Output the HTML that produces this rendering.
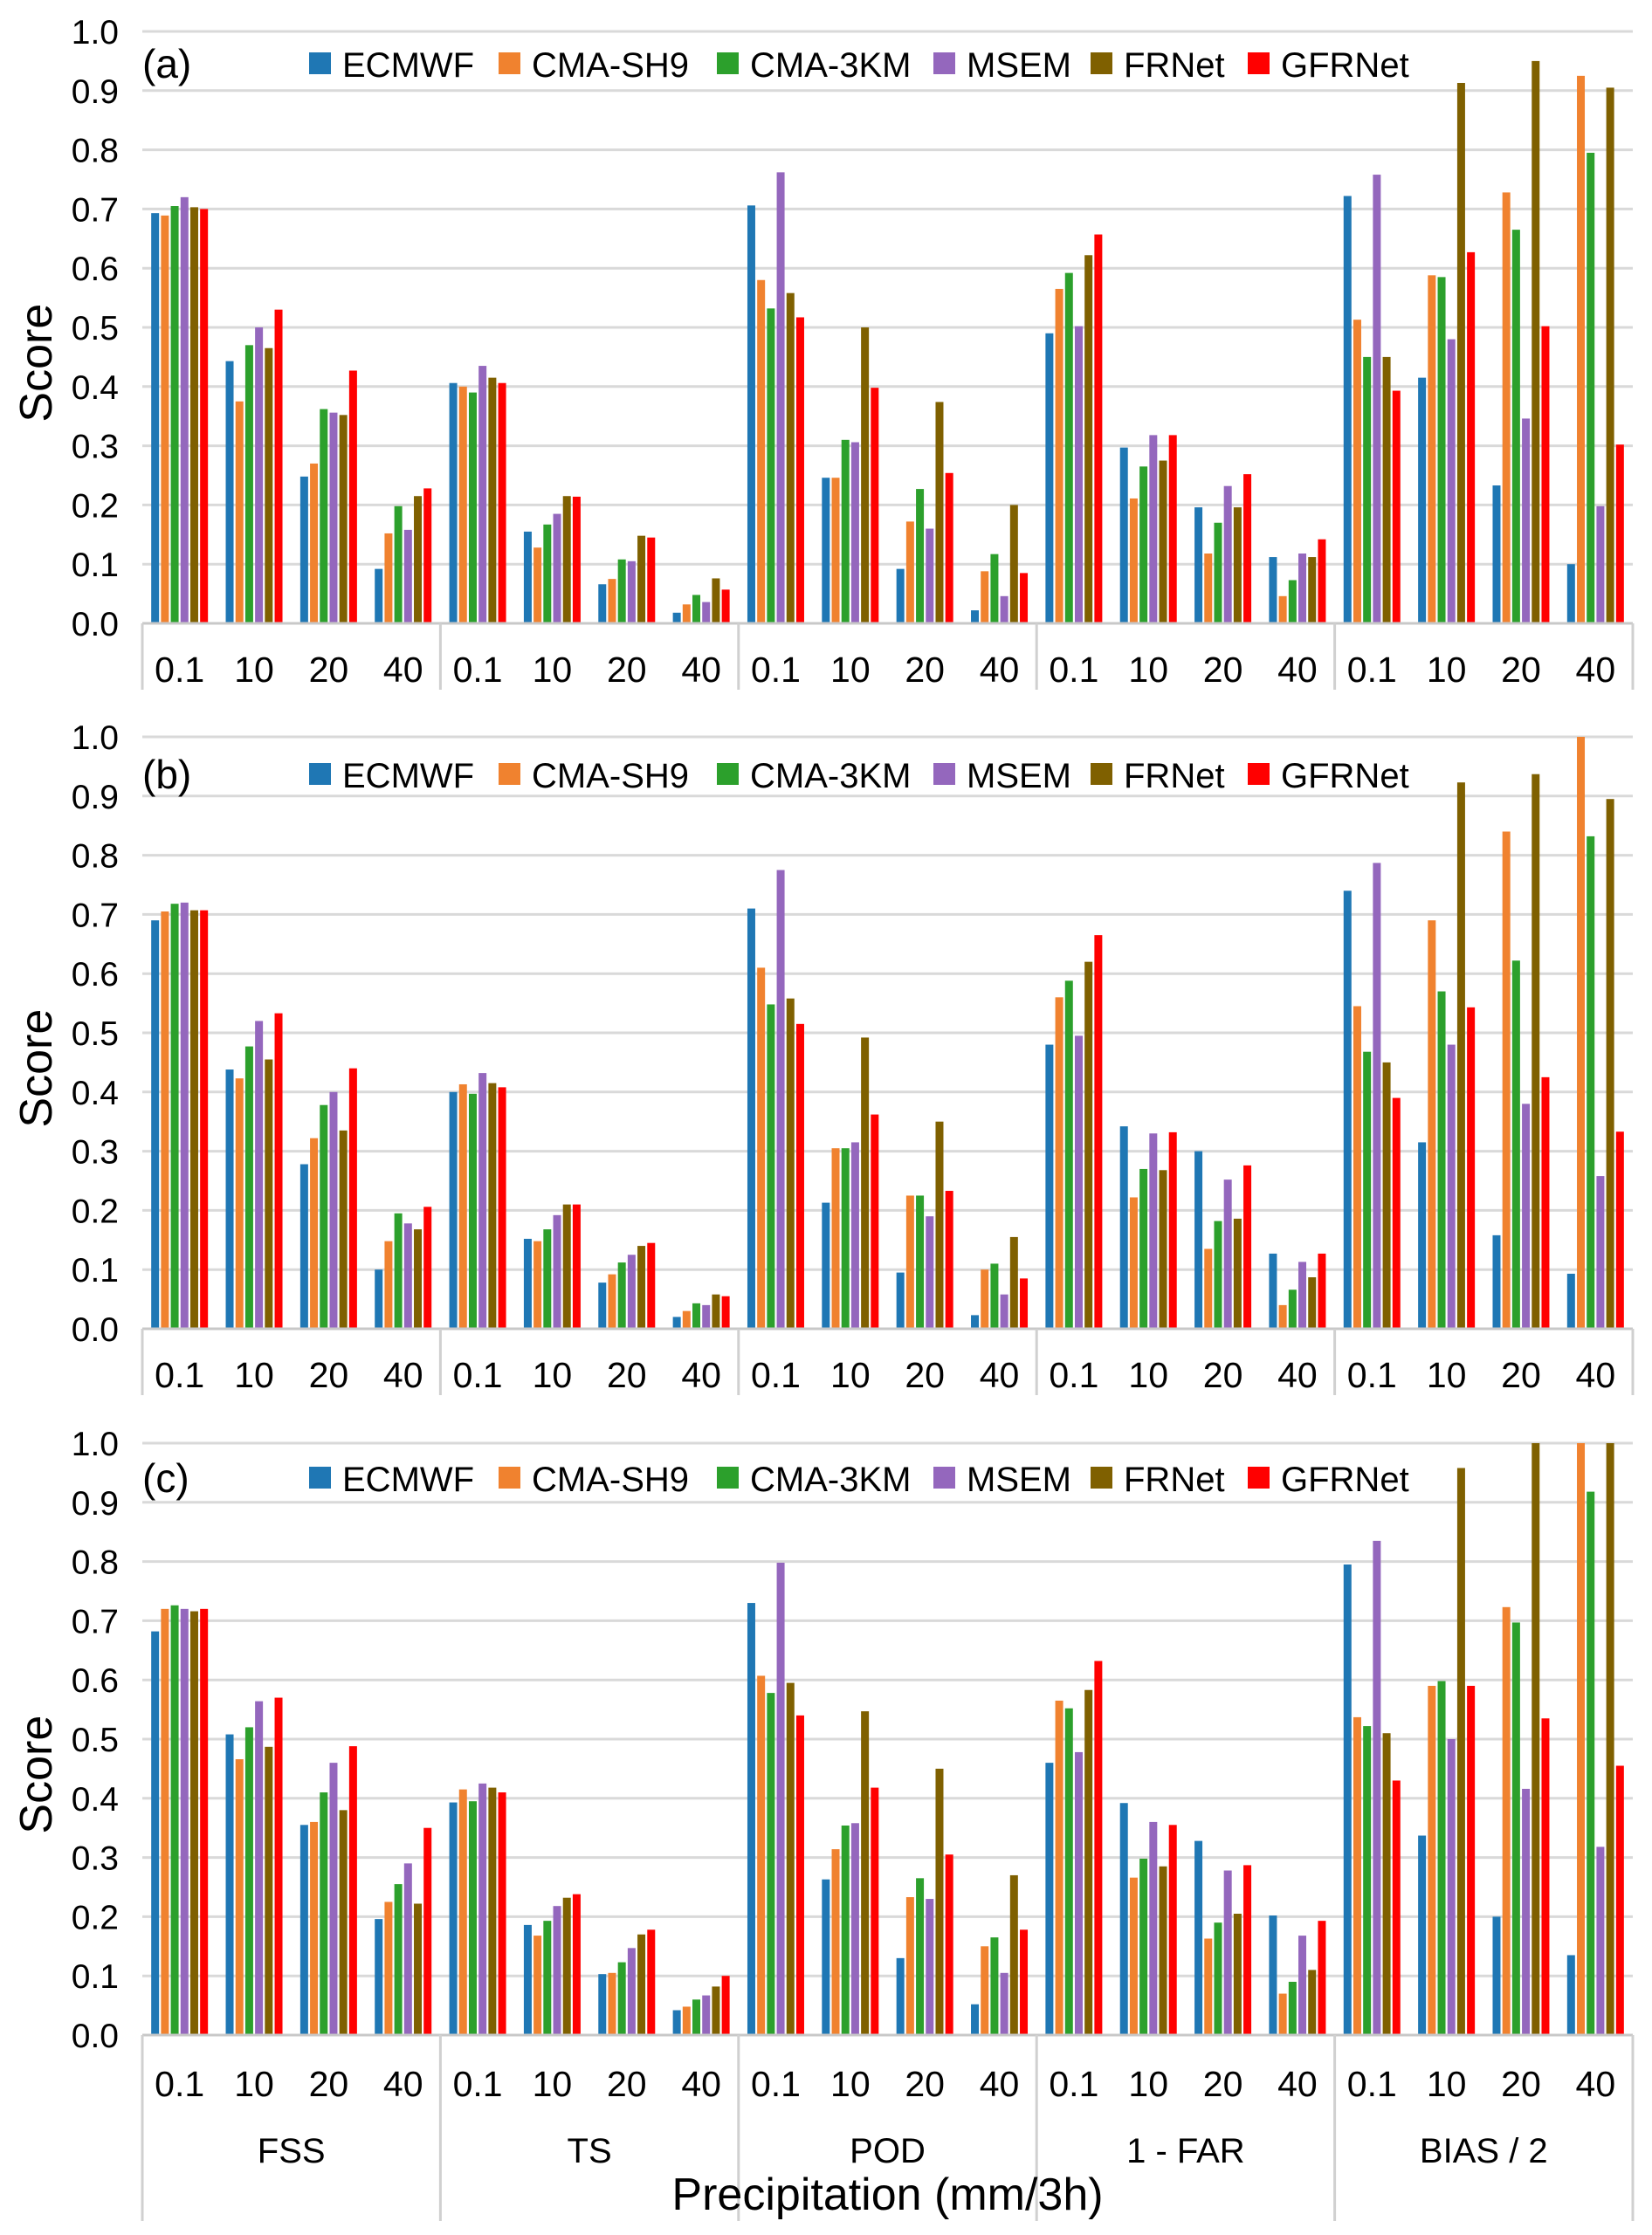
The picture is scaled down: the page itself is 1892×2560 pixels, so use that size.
<!DOCTYPE html>
<html><head><meta charset="utf-8"><style>
html,body{margin:0;padding:0;background:#fff}
svg{display:block}
text{font-family:"Liberation Sans",Arial,sans-serif;fill:#000}
</style></head><body>
<svg id="chart" width="1892" height="2560" viewBox="0 0 1892 2560" xmlns="http://www.w3.org/2000/svg"></svg>
<script>
const series = ["ECMWF","CMA-SH9","CMA-3KM","MSEM","FRNet","GFRNet"];
const colors = ["#1f77b4","#f0822f","#2ca02c","#9467bd","#7f6000","#ff0000"];
const groups = ["FSS","TS","POD","1 - FAR","BIAS / 2"];
const thresholds = ["0.1","10","20","40"];
const yTicks = ["0.0","0.1","0.2","0.3","0.4","0.5","0.6","0.7","0.8","0.9","1.0"];
const panelLabels = ["(a)","(b)","(c)"];
const panelA = [
[0.693,0.689,0.705,0.72,0.703,0.700],[0.443,0.375,0.47,0.50,0.465,0.53],[0.248,0.27,0.362,0.356,0.352,0.427],[0.092,0.152,0.198,0.158,0.215,0.228],
[0.406,0.400,0.39,0.435,0.415,0.406],[0.155,0.128,0.167,0.185,0.215,0.214],[0.066,0.075,0.108,0.105,0.148,0.145],[0.018,0.032,0.048,0.036,0.076,0.057],
[0.706,0.58,0.532,0.762,0.558,0.517],[0.246,0.246,0.31,0.306,0.50,0.398],[0.092,0.172,0.227,0.16,0.374,0.254],[0.022,0.088,0.117,0.046,0.20,0.085],
[0.49,0.565,0.592,0.502,0.622,0.657],[0.297,0.211,0.265,0.318,0.275,0.318],[0.196,0.118,0.170,0.232,0.196,0.252],[0.112,0.046,0.073,0.118,0.112,0.142],
[0.722,0.513,0.45,0.758,0.45,0.393],[0.415,0.588,0.585,0.48,0.913,0.627],[0.233,0.728,0.665,0.346,0.95,0.502],[0.10,0.925,0.795,0.198,0.905,0.302]];
const panelB = [
[0.69,0.705,0.718,0.72,0.707,0.707],[0.438,0.423,0.477,0.52,0.455,0.533],[0.278,0.322,0.378,0.40,0.335,0.44],[0.10,0.148,0.195,0.178,0.168,0.206],
[0.40,0.413,0.397,0.432,0.415,0.408],[0.152,0.148,0.168,0.192,0.21,0.21],[0.078,0.092,0.112,0.125,0.14,0.145],[0.02,0.03,0.043,0.04,0.058,0.055],
[0.71,0.61,0.548,0.775,0.558,0.515],[0.213,0.305,0.305,0.315,0.492,0.362],[0.095,0.225,0.225,0.19,0.35,0.233],[0.023,0.10,0.11,0.058,0.155,0.085],
[0.48,0.56,0.588,0.495,0.62,0.665],[0.342,0.222,0.27,0.33,0.268,0.332],[0.30,0.135,0.182,0.252,0.186,0.276],[0.127,0.04,0.066,0.113,0.087,0.127],
[0.74,0.545,0.468,0.787,0.45,0.39],[0.315,0.69,0.57,0.48,0.923,0.543],[0.158,0.84,0.622,0.38,0.937,0.425],[0.093,1.0,0.832,0.258,0.895,0.333]];
const panelC = [
[0.682,0.72,0.726,0.72,0.716,0.72],[0.508,0.466,0.52,0.564,0.487,0.57],[0.355,0.36,0.41,0.46,0.38,0.488],[0.196,0.225,0.255,0.29,0.222,0.35],
[0.393,0.415,0.395,0.425,0.418,0.41],[0.186,0.168,0.193,0.218,0.232,0.238],[0.103,0.105,0.123,0.147,0.17,0.178],[0.042,0.048,0.06,0.067,0.082,0.10],
[0.73,0.607,0.578,0.798,0.595,0.54],[0.263,0.314,0.354,0.358,0.547,0.418],[0.13,0.233,0.265,0.23,0.45,0.305],[0.052,0.15,0.165,0.105,0.27,0.178],
[0.46,0.565,0.552,0.478,0.583,0.632],[0.392,0.266,0.298,0.36,0.285,0.355],[0.328,0.163,0.19,0.278,0.205,0.287],[0.202,0.07,0.09,0.168,0.11,0.193],
[0.795,0.537,0.522,0.835,0.51,0.43],[0.337,0.59,0.598,0.50,0.958,0.59],[0.20,0.723,0.697,0.416,1.0,0.535],[0.135,1.0,0.918,0.318,1.0,0.455]];
const panelData = [panelA,panelB,panelC];

const NS="http://www.w3.org/2000/svg";
const svg=document.getElementById('chart');
function mk(tag,attrs,parent,txt){const e=document.createElementNS(NS,tag);for(const k in attrs)e.setAttribute(k,attrs[k]);if(txt!==undefined)e.textContent=txt;(parent||svg).appendChild(e);return e;}
const left=163,right=1870,nCat=20,catW=(right-left)/nCat,pitch=11.2,barW=9;
const zeros=[714,1522,2331],plotH=678;
const legendX=[354,571,821,1069,1249,1429];
const tickY=[766,1574,2386];
const divBottom=[790,1598,2544];
function xCat(c){return left+(c+0.5)*catW;}
panelData.forEach((data,p)=>{
  const y0=zeros[p];
  const yS=v=>y0-v*plotH;
  const g=mk('g',{});
  
  
  yTicks.forEach((t,i)=>{
    const v=parseFloat(t);
    if(i>0){const gl=mk('line',{x1:left,x2:right,y1:yS(v),y2:yS(v),stroke:'#d9d9d9','stroke-width':3},g);
      }
    const tl=mk('text',{x:136,y:yS(v)+14,'font-size':39,'text-anchor':'end'},g,t);
    
  });
  data.forEach((vals,c)=>{
    vals.forEach((v,s)=>{
      const x=xCat(c)+(s-2.5)*pitch-barW/2;
      const r=mk('rect',{x:x,y:yS(v),width:barW,height:v*plotH,fill:colors[s]},g);
      
      
    });
    const tl=mk('text',{x:xCat(c),y:tickY[p]+15,'font-size':41,'text-anchor':'middle'},g,thresholds[c%4]);
    
  });
  const ax=mk('line',{x1:left,x2:right,y1:y0,y2:y0,stroke:'#c8c8c8','stroke-width':3},g);
  
  for(let k=0;k<=5;k++){
    const x=left+k*4*catW;
    const d=mk('line',{x1:x,x2:x,y1:y0,y2:divBottom[p],stroke:'#d0d0d0','stroke-width':3},g);
    
  }
  const ly=[73,887,1693][p];
  const pl=mk('text',{x:163,y:ly+16,'font-size':46},g,panelLabels[p]);
  
  series.forEach((s,i)=>{
    const sw=mk('rect',{x:legendX[i],y:ly-13,width:25,height:25,fill:colors[i]},g);
    
    const lt=mk('text',{x:legendX[i]+38,y:ly+15,'font-size':40},g,s);
    
  });
  const yl=mk('text',{x:0,y:0,'font-size':52,'text-anchor':'middle',transform:'translate(59,'+(y0-plotH*0.44)+') rotate(-90)'},g,'Score');
  
});
groups.forEach((gname,k)=>{
  const t=mk('text',{x:left+(k*4+2)*catW,y:2477,'font-size':40,'text-anchor':'middle'},svg,gname);
  
});
const xt=mk('text',{x:(left+right)/2,y:2531,'font-size':52,'text-anchor':'middle'},svg,'Precipitation (mm/3h)');


</script>
</body></html>
